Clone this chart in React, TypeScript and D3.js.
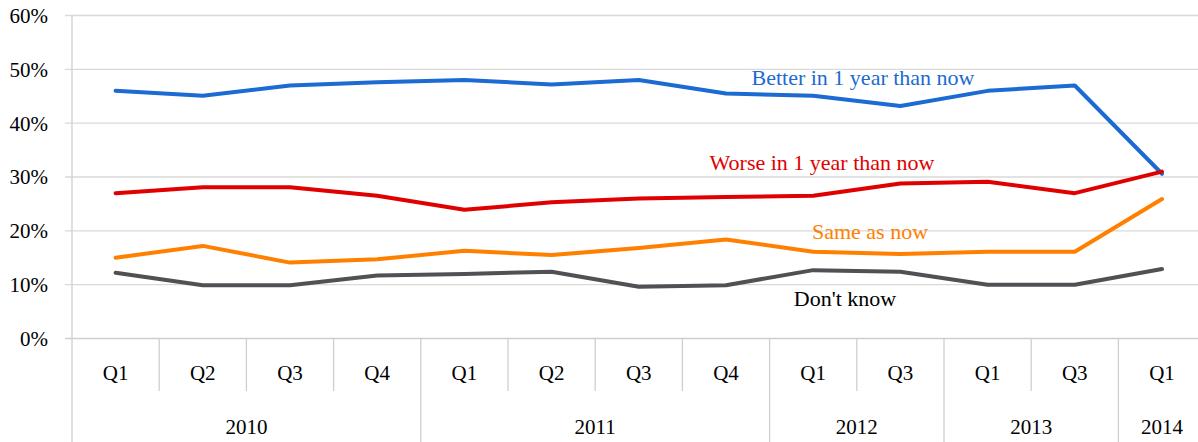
import React from "react";
import * as d3 from "d3";

const quarters = ["Q1", "Q2", "Q3", "Q4", "Q1", "Q2", "Q3", "Q4", "Q1", "Q3", "Q1", "Q3", "Q1"];
const years = [
  { label: "2010", start: 0, end: 4 },
  { label: "2011", start: 4, end: 8 },
  { label: "2012", start: 8, end: 10 },
  { label: "2013", start: 10, end: 12 },
  { label: "2014", start: 12, end: 13 },
];
const better = [46, 45.1, 47, 47.6, 48, 47.2, 48, 45.5, 45.1, 43.2, 46, 47, 30.6];
const worse = [27, 28.1, 28.1, 26.5, 23.9, 25.3, 26, 26.3, 26.5, 28.8, 29.1, 27, 31];
const same = [15, 17.2, 14.1, 14.7, 16.3, 15.5, 16.8, 18.4, 16.1, 15.7, 16.1, 16.1, 25.9];
const dontKnow = [12.2, 9.9, 9.9, 11.7, 12, 12.4, 9.6, 9.9, 12.7, 12.4, 10, 10, 12.9];
const yTicks = [0, 10, 20, 30, 40, 50, 60];

const series = [
  { name: "Better in 1 year than now", values: better, color: "#1b6bd2", lx: 863, ly: 85 },
  { name: "Worse in 1 year than now", values: worse, color: "#e00000", lx: 822, ly: 170 },
  { name: "Same as now", values: same, color: "#ff8000", lx: 870, ly: 239 },
  { name: "Don't know", values: dontKnow, color: "#505055", lx: 845, ly: 306, textColor: "#000" },
];

const W = 1198;
const H = 442;
const left = 72;
const band = 87.2;
const y0 = 338.5;
const y60 = 15.5;
const font = "Liberation Serif, Times New Roman, Tinos, DejaVu Serif, serif";
const axisFont = { fontFamily: font, fontSize: "21px" };
const labelFont = { fontFamily: font, fontSize: "22px" };

export default function App() {
  const idx = d3.range(quarters.length);
  const x = d3.scaleBand<number>().domain(idx).range([left, left + band * quarters.length]).padding(0);
  const y = d3.scaleLinear().domain([0, 60]).range([y0, y60]);
  const cx = (i: number) => (x(i) as number) + x.bandwidth() / 2;
  const line = d3
    .line<number>()
    .x((_, i) => cx(i))
    .y((d) => y(d));
  const right = left + band * quarters.length;
  const grid = "#d9d9d9";
  const axis = "#cfcfcf";

  return (
    <svg width={W} height={H} style={{ position: "absolute", left: 0, top: 0, background: "#fff" }}>
      <rect x={0} y={0} width={W} height={H} fill="#fff" />
      {yTicks.map((t) => (
        <g key={t}>
          <line x1={65} x2={right} y1={y(t)} y2={y(t)} stroke={t === 0 ? axis : grid} strokeWidth={1.3} />
          <text x={48} y={y(t)} dy="0.35em" textAnchor="end" style={axisFont} fill="#000">
            {t}%
          </text>
        </g>
      ))}
      <line x1={left} x2={left} y1={y60} y2={H} stroke={axis} strokeWidth={1.3} />
      {idx.slice(1).map((i) => {
        const isYear = years.some((yr) => yr.start === i);
        return (
          <line key={i} x1={x(i)} x2={x(i)} y1={y0} y2={isYear ? H : 391} stroke={axis} strokeWidth={1.3} />
        );
      })}
      {idx.map((i) => (
        <text key={i} x={cx(i)} y={373} dy="0.35em" textAnchor="middle" style={axisFont} fill="#000">
          {quarters[i]}
        </text>
      ))}
      {years.map((yr) => (
        <text
          key={yr.label}
          x={((x(yr.start) as number) + (x(yr.end - 1) as number) + x.bandwidth()) / 2}
          y={427}
          dy="0.35em"
          textAnchor="middle"
          style={axisFont}
          fill="#000"
        >
          {yr.label}
        </text>
      ))}
      {series.map((s) => (
        <path
          key={s.name}
          d={line(s.values) || ""}
          fill="none"
          stroke={s.color}
          strokeWidth={4}
          strokeLinejoin="round"
          strokeLinecap="round"
        />
      ))}
      {series.map((s) => (
        <text key={s.name + "-l"} x={s.lx} y={s.ly} textAnchor="middle" style={labelFont} fill={s.textColor || s.color}>
          {s.name}
        </text>
      ))}
    </svg>
  );
}
